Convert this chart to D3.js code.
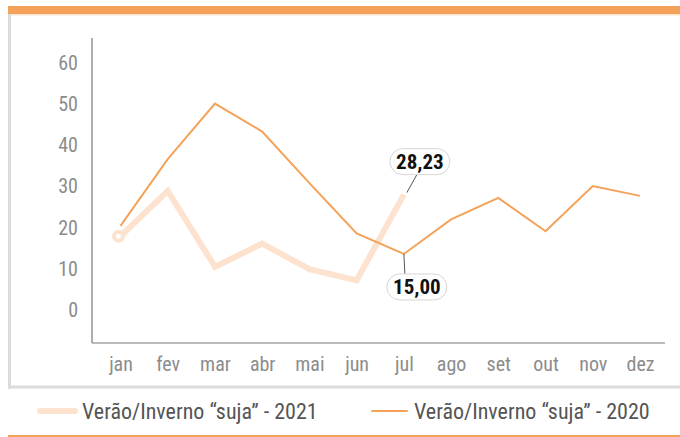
<!DOCTYPE html>
<html>
<head>
<meta charset="utf-8">
<script src="https://cdn.jsdelivr.net/npm/d3@7"></script>
<style>
	body{margin:0;background:#fff}
	svg{display:block}
	text{font-family:"Liberation Sans Narrow","Roboto Condensed","DejaVu Sans Condensed",sans-serif}
</style>
</head>
<body>
<div id="chart"></div>
<script>
var months=["jan","fev","mar","abr","mai","jun","jul","ago","set","out","nov","dez"]
var yTicks=[0,10,20,30,40,50,60]
var serie2020=[20.4,36.6,50.1,43.3,30.8,18.6,13.6,22.0,27.2,19.1,30.1,27.7]
var serie2021=[17.9,28.9,10.5,16.1,9.9,7.2,28.0]
var legendLabels=["Verão/Inverno “suja” - 2021","Verão/Inverno “suja” - 2020"]
// callouts: month index, series, text
var callouts=[
	{i:6,serie:"2021",text:"28,23",dx:16,dy:-33},
	{i:6,serie:"2020",text:"15,00",dx:13,dy:33}
]

var W=680,H=437
var orange="#f4a259",peach="#fde3cf",grayTxt="#8c8c8c"

var svg=d3.select("#chart").append("svg")
	.attr("width",W)
	.attr("height",H)

// frame
svg.append("rect").attr("x",8).attr("y",6).attr("width",W-8).attr("height",8).attr("fill",orange)
svg.append("rect").attr("x",8).attr("y",14).attr("width",W-8).attr("height",1.5).attr("fill","#fbe3cc")
svg.append("rect").attr("x",8).attr("y",14).attr("width",3).attr("height",375).attr("fill","#dcdcdc")
svg.append("rect").attr("x",8).attr("y",385.5).attr("width",W-8).attr("height",3).attr("fill","#dcdcdc")
svg.append("rect").attr("x",8).attr("y",435).attr("width",W-8).attr("height",2).attr("fill",orange)

var x=d3.scalePoint().domain(months).range([120.5,640])
var y=d3.scaleLinear().domain([-8,66]).range([343,38])

// axes lines
svg.append("line").attr("x1",92).attr("x2",92).attr("y1",y(66)).attr("y2",y(-8))
	.attr("stroke","#9a9a9a").attr("stroke-width",1.6)
svg.append("line").attr("x1",92).attr("x2",665).attr("y1",y(-8)).attr("y2",y(-8))
	.attr("stroke","#7a7a7a").attr("stroke-width",1.2)

var gy=svg.append("g")
	.attr("transform","translate(92,0)")
	.call(d3.axisLeft(y).tickValues(yTicks).tickSize(0).tickPadding(14))
gy.select(".domain").remove()
gy.selectAll("text").attr("font-size",20).attr("fill",grayTxt).attr("font-family",null)

var gx=svg.append("g")
	.attr("transform","translate(0,343)")
	.call(d3.axisBottom(x).tickSize(0).tickPadding(14))
gx.select(".domain").remove()
gx.selectAll("text").attr("font-size",20).attr("fill",grayTxt).attr("font-family",null)

var line=d3.line()
	.x(function(d,i){return x(months[i])})
	.y(function(d){return y(d)})

svg.append("path")
	.datum(serie2021)
	.attr("fill","none")
	.attr("stroke",peach)
	.attr("stroke-width",6)
	.attr("stroke-linejoin","miter")
	.attr("d",line)

svg.append("circle")
	.attr("cx",x(months[0])-2)
	.attr("cy",y(serie2021[0]))
	.attr("r",4.5)
	.attr("fill","#fff")
	.attr("stroke",peach)
	.attr("stroke-width",4)

svg.append("path")
	.datum(serie2020)
	.attr("fill","none")
	.attr("stroke",orange)
	.attr("stroke-width",2)
	.attr("d",line)

// callouts
callouts.forEach(function(c){
	var val=c.serie=="2021"?serie2021[c.i]:serie2020[c.i]
	var px=x(months[c.i]),py=y(val)
	var g=svg.append("g")
	var bx=px+c.dx,by=py+c.dy
	g.append("line")
		.attr("x1",px+(c.serie=="2021"?3:0)).attr("y1",py+(c.dy<0?-2:0))
		.attr("x2",px+(c.dy<0?13:1)).attr("y2",by+(c.dy<0?13:-13))
		.attr("stroke","#555").attr("stroke-width",1)
	g.append("rect")
		.attr("x",bx-30).attr("y",by-13)
		.attr("width",60).attr("height",26)
		.attr("rx",13)
		.attr("fill","#fff")
		.attr("stroke","#d6d6d6")
		.attr("stroke-width",1)
	g.append("text")
		.attr("x",bx).attr("y",by+7)
		.attr("text-anchor","middle")
		.attr("font-size",21)
		.attr("font-weight","bold")
		.attr("fill","#111")
		.text(c.text)
})

// legend
var legend=[
	{label:legendLabels[0],x:40,color:peach,w:6},
	{label:legendLabels[1],x:372,color:orange,w:2}
]
var lg=svg.selectAll(".leg").data(legend).enter().append("g")
	.attr("transform",function(d){return "translate("+d.x+",411)"})
lg.append("line")
	.attr("x1",0).attr("x2",35)
	.attr("stroke",function(d){return d.color})
	.attr("stroke-width",function(d){return d.w})
	.attr("stroke-linecap","round")
lg.append("text")
	.attr("x",42).attr("y",8)
	.attr("font-size",22)
	.attr("fill","#555")
	.text(function(d){return d.label})
</script>
</body>
</html>
